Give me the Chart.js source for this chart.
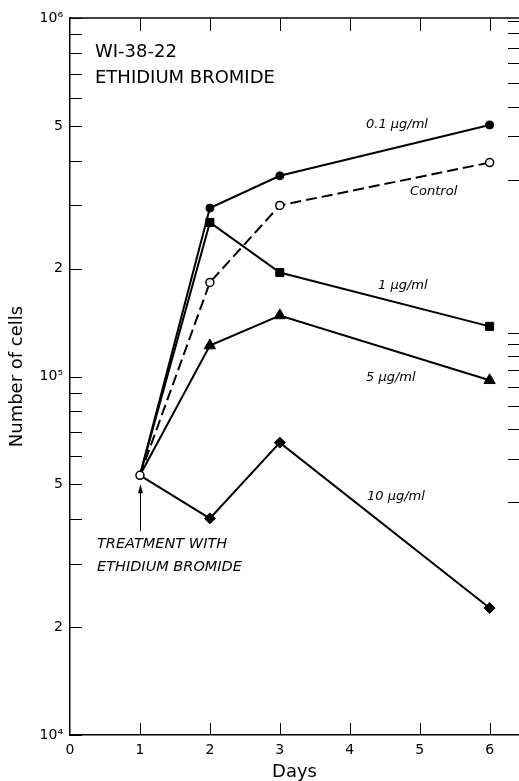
<!DOCTYPE html>
<html>
<head>
<meta charset="utf-8">
<script src="https://cdn.jsdelivr.net/npm/chart.js@4.4.1/dist/chart.umd.min.js"></script>
<style>
    html, body { margin: 0; padding: 0; background: #fff; }
    #wrap { width: 519px; height: 781px; }
</style>
</head>
<body>
<div id="wrap"><canvas id="growthChart" width="519" height="781"></canvas></div>
<script>
// Datos (células por placa)
const days = [1, 2, 3, 6];
const control = [5.3e4, 1.83e5, 3.0e5, 3.95e5];
const dose01 = [5.3e4, 2.95e5, 3.63e5, 5.03e5];
const dose1 = [5.3e4, 2.69e5, 1.95e5, 1.38e5];
const dose5 = [5.3e4, 1.22e5, 1.48e5, 9.76e4];
const dose10 = [5.3e4, 4.02e4, 6.54e4, 2.26e4];

// Marcas de los ejes
const xTickValues = [0, 1, 2, 3, 4, 5, 6];
const yTickValues = [1e4, 2e4, 3e4, 4e4, 5e4, 6e4, 7e4, 8e4, 9e4,
    1e5, 2e5, 3e5, 4e5, 5e5, 6e5, 7e5, 8e5, 9e5, 1e6];
// marcas sueltas del borde derecho (escala auxiliar)
const rightTickValues = [2, 3, 4, 5, 6, 7, 8, 9, 10, 43, 65, 86, 108, 130, 151, 173, 194];

const FONT = 'DejaVu Sans';
const superscripts = { 4: '\u2074', 5: '\u2075', 6: '\u2076' };

function toPoints(values) {
    return values.map((v, i) => ({ x: days[i], y: v }));
}

// Crear una serie con su marcador
function makeSeries(label, values, style, radius, opts = {}) {
    return {
        label: label,
        data: toPoints(values),
        borderColor: '#000',
        borderWidth: 2,
        pointStyle: style,
        pointRadius: opts.firstPoint ? radius : values.map((v, i) => i === 0 ? 0 : radius),
        pointBackgroundColor: opts.open ? '#fff' : '#000',
        pointBorderColor: '#000',
        pointBorderWidth: opts.open ? 1.5 : 1,
        borderDash: opts.dash || [],
        tension: 0,
        fill: false
    };
}

const framePlugin = {
    id: 'frame',
    afterDraw(chart) {
        const { ctx, chartArea: area, scales } = chart;
        const x = scales.x, y = scales.y, y2 = scales.y2;
        ctx.save();
        ctx.strokeStyle = '#000';
        ctx.fillStyle = '#000';

        // borde superior
        ctx.lineWidth = 1.5;
        ctx.beginPath();
        ctx.moveTo(area.left - 1, area.top);
        ctx.lineTo(area.right, area.top);
        ctx.stroke();

        // marcas hacia dentro
        ctx.lineWidth = 1;
        ctx.beginPath();
        y.ticks.forEach(t => {
            const py = Math.round(y.getPixelForValue(t.value)) + 0.5;
            ctx.moveTo(area.left, py);
            ctx.lineTo(area.left + 12, py);
        });
        x.ticks.forEach(t => {
            if (t.value === 0) return;
            const px = Math.round(x.getPixelForValue(t.value)) + 0.5;
            ctx.moveTo(px, area.top);
            ctx.lineTo(px, area.top + 13);
            ctx.moveTo(px, area.bottom);
            ctx.lineTo(px, area.bottom - 12);
        });
        y2.ticks.forEach(t => {
            const py = Math.round(y2.getPixelForValue(t.value)) + 0.5;
            ctx.moveTo(area.right - 11, py);
            ctx.lineTo(area.right, py);
        });
        ctx.stroke();

        // títulos y rótulos
        ctx.textBaseline = 'middle';
        ctx.textAlign = 'left';
        ctx.font = `18px "${FONT}"`;
        ctx.fillText('WI-38-22', 95, 52);
        ctx.fillText('ETHIDIUM BROMIDE', 95, 78);

        ctx.font = `italic 13px "${FONT}"`;
        ctx.fillText('0.1 \u03bcg/ml', 366, 125);
        ctx.fillText('Control', 410, 192);
        ctx.fillText('1 \u03bcg/ml', 378, 286);
        ctx.fillText('5 \u03bcg/ml', 366, 378);
        ctx.fillText('10 \u03bcg/ml', 367, 497);

        ctx.font = `italic 14.5px "${FONT}"`;
        ctx.fillText('TREATMENT WITH', 97, 544);
        ctx.fillText('ETHIDIUM BROMIDE', 97, 567);

        // flecha del tratamiento
        const ax = Math.round(x.getPixelForValue(1)) + 0.5;
        const tipY = y.getPixelForValue(control[0]) + 9;
        ctx.lineWidth = 1;
        ctx.beginPath();
        ctx.moveTo(ax, 531);
        ctx.lineTo(ax, tipY + 6);
        ctx.stroke();
        ctx.beginPath();
        ctx.moveTo(ax, tipY);
        ctx.lineTo(ax - 2.5, tipY + 9);
        ctx.lineTo(ax + 2.5, tipY + 9);
        ctx.closePath();
        ctx.fill();
        ctx.restore();
    }
};

const chart = new Chart(document.getElementById('growthChart').getContext('2d'), {
    type: 'line',
    data: {
        datasets: [
            makeSeries('Control', control, 'circle', 4, { open: true, firstPoint: true, dash: [11, 5] }),
            makeSeries('0.1 \u03bcg/ml', dose01, 'circle', 4),
            makeSeries('1 \u03bcg/ml', dose1, 'rect', 5.7),
            makeSeries('5 \u03bcg/ml', dose5, 'triangle', 6.5),
            makeSeries('10 \u03bcg/ml', dose10, 'rectRot', 5.5)
        ]
    },
    plugins: [framePlugin],
    options: {
        responsive: false,
        animation: false,
        layout: { autoPadding: false, padding: { top: 18, right: 0, bottom: 0, left: 0 } },
        plugins: {
            legend: { display: false },
            tooltip: { enabled: false }
        },
        scales: {
            x: {
                type: 'linear',
                min: 0,
                max: 6.42,
                afterBuildTicks: (scale) => { scale.ticks = xTickValues.map(v => ({ value: v })); },
                afterFit: (scale) => {
                    scale.height = 46;
                    scale.paddingLeft = 0;
                    scale.paddingRight = 0;
                },
                grid: { display: false, drawTicks: false },
                border: { display: true, color: '#000', width: 1.5 },
                ticks: {
                    color: '#000',
                    padding: 7,
                    font: { family: FONT, size: 14 },
                    maxRotation: 0,
                    autoSkip: false
                },
                title: {
                    display: true,
                    text: 'Days',
                    color: '#000',
                    font: { family: FONT, size: 18, lineHeight: 1 },
                    padding: { top: 0, bottom: 0 }
                }
            },
            y: {
                type: 'logarithmic',
                min: 1e4,
                max: 1e6,
                afterBuildTicks: (scale) => { scale.ticks = yTickValues.map(v => ({ value: v })); },
                afterFit: (scale) => {
                    scale.width = 70;
                    scale.paddingTop = 0;
                    scale.paddingBottom = 0;
                },
                grid: { display: false, drawTicks: false },
                border: { display: true, color: '#000', width: 1.5 },
                ticks: {
                    color: '#000',
                    padding: 7,
                    autoSkip: false,
                    font: { family: FONT, size: 14 },
                    callback: (value) => {
                        const e = Math.floor(Math.log10(value) + 1e-9);
                        const m = Math.round(value / Math.pow(10, e));
                        if (m === 1) return '10' + superscripts[e];
                        if (m === 2 || m === 5) return String(m);
                        return '';
                    }
                },
                title: {
                    display: true,
                    text: 'Number of cells',
                    color: '#000',
                    font: { family: FONT, size: 18, lineHeight: 1.2 },
                    padding: { top: 7, bottom: 0 }
                }
            },
            y2: {
                type: 'logarithmic',
                position: 'right',
                min: 0.218,
                max: 200,
                afterBuildTicks: (scale) => { scale.ticks = rightTickValues.map(v => ({ value: v })); },
                afterFit: (scale) => { scale.width = 0; },
                grid: { display: false, drawTicks: false },
                border: { display: false },
                ticks: { display: false }
            }
        }
    }
});
</script>
</body>
</html>
